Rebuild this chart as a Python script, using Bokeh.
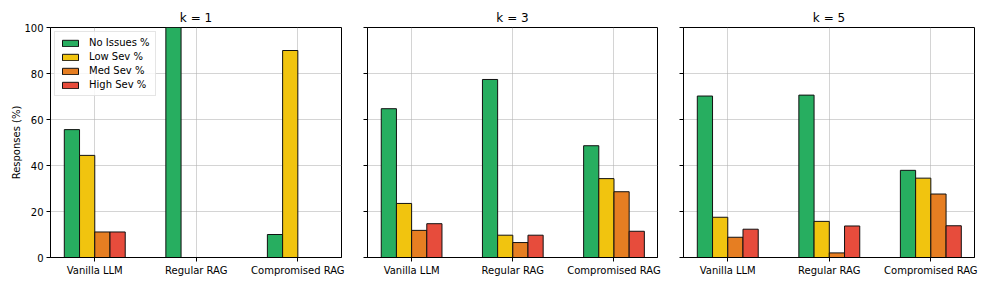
from bokeh.plotting import figure
from bokeh.layouts import row
from bokeh.models import ColumnDataSource, Range1d, FixedTicker, CustomJSTickFormatter
from bokeh.transform import dodge
from bokeh.embed import file_html
from bokeh.resources import INLINE

categories = ["Vanilla LLM", "Regular RAG", "Compromised RAG"]
x_index = [0, 1, 2]
series_names = ["No Issues %", "Low Sev %", "Med Sev %", "High Sev %"]
series_keys = ["no", "low", "med", "high"]
colors = ["#27ae60", "#f1c40f", "#e67e22", "#e74c3c"]
panel_titles = ["k = 1", "k = 3", "k = 5"]
y_ticks = [0, 20, 40, 60, 80, 100]

k1_no = [55.6, 100.0, 10.0]
k1_low = [44.4, 0.0, 90.0]
k1_med = [11.1, 0.0, 0.0]
k1_high = [11.1, 0.0, 0.0]

k3_no = [64.7, 77.4, 48.6]
k3_low = [23.5, 9.7, 34.3]
k3_med = [11.8, 6.5, 28.6]
k3_high = [14.7, 9.7, 11.4]

k5_no = [70.2, 70.6, 37.9]
k5_low = [17.5, 15.7, 34.5]
k5_med = [8.8, 2.0, 27.6]
k5_high = [12.3, 13.7, 13.8]

panels_data = [
    (k1_no, k1_low, k1_med, k1_high),
    (k3_no, k3_low, k3_med, k3_high),
    (k5_no, k5_low, k5_med, k5_high),
]

FONT = "DejaVu Sans"
FS = "10px"
offsets = [-0.225, -0.075, 0.075, 0.225]
bar_w = 0.15

figs = []
for i, (title, data) in enumerate(zip(panel_titles, panels_data)):
    src = ColumnDataSource(dict(x=x_index, no=data[0], low=data[1], med=data[2], high=data[3]))
    first = i == 0
    p = figure(
        output_backend="svg", toolbar_location=None,
        frame_width=291 if i != 1 else 290, frame_height=230,
        x_range=Range1d(-0.436, 2.43), y_range=Range1d(0, 100),
        min_border_left=50 if first else 16,
        min_border_right=10,
        min_border_top=27, min_border_bottom=20,
        title=title,
    )
    p.title.align = "center"
    p.title.text_font = FONT
    p.title.text_font_size = "12px"
    p.title.text_font_style = "normal"
    p.title.text_color = "#000000"
    p.title.offset = 0
    p.title.standoff = 5

    for key, name, col, off in zip(series_keys, series_names, colors, offsets):
        kw = dict(legend_label=name) if first else {}
        p.vbar(x=dodge("x", off, range=p.x_range), top=key, bottom=0, width=bar_w, source=src,
               fill_color=col, line_color="#111111", line_width=1, **kw)

    p.xaxis.ticker = FixedTicker(ticks=x_index)
    p.xaxis.major_label_overrides = {xi: c for xi, c in zip(x_index, categories)}
    p.yaxis.ticker = FixedTicker(ticks=y_ticks)
    if not first:
        p.yaxis.formatter = CustomJSTickFormatter(code="return ''")
    else:
        p.yaxis.axis_label = "Responses (%)"
        p.yaxis.axis_label_text_font = FONT
        p.yaxis.axis_label_text_font_size = FS
        p.yaxis.axis_label_text_font_style = "normal"
        p.yaxis.axis_label_text_color = "#000000"
        p.yaxis.axis_label_standoff = -1

    for ax in (p.xaxis, p.yaxis):
        ax.major_label_text_font = FONT
        ax.major_label_text_font_size = FS
        ax.major_label_text_color = "#000000"
        ax.axis_line_color = "#000000"
        ax.major_tick_line_color = "#000000"
        ax.major_tick_out = 4
        ax.major_tick_in = 0
        ax.minor_tick_line_color = None
        ax.major_label_standoff = 3

    p.xgrid.grid_line_color = "#b0b0b0"
    p.ygrid.grid_line_color = "#b0b0b0"
    p.xgrid.grid_line_alpha = 0.55
    p.ygrid.grid_line_alpha = 0.55
    p.outline_line_color = "#000000"
    p.outline_line_alpha = 1
    p.outline_line_width = 1

    if first:
        lg = p.legend[0]
        lg.location = "top_left"
        lg.margin = 4
        lg.padding = 5
        lg.spacing = 3
        lg.label_height = 10
        lg.glyph_height = 8
        lg.glyph_width = 20
        lg.label_standoff = 9
        lg.label_text_font = FONT
        lg.label_text_font_size = FS
        lg.label_text_color = "#000000"
        lg.label_text_baseline = "middle"
        lg.border_line_color = "#cccccc"
        lg.background_fill_alpha = 0.8
    figs.append(p)

layout = row(*figs)
open("out.html", "w").write(file_html(layout, INLINE))
